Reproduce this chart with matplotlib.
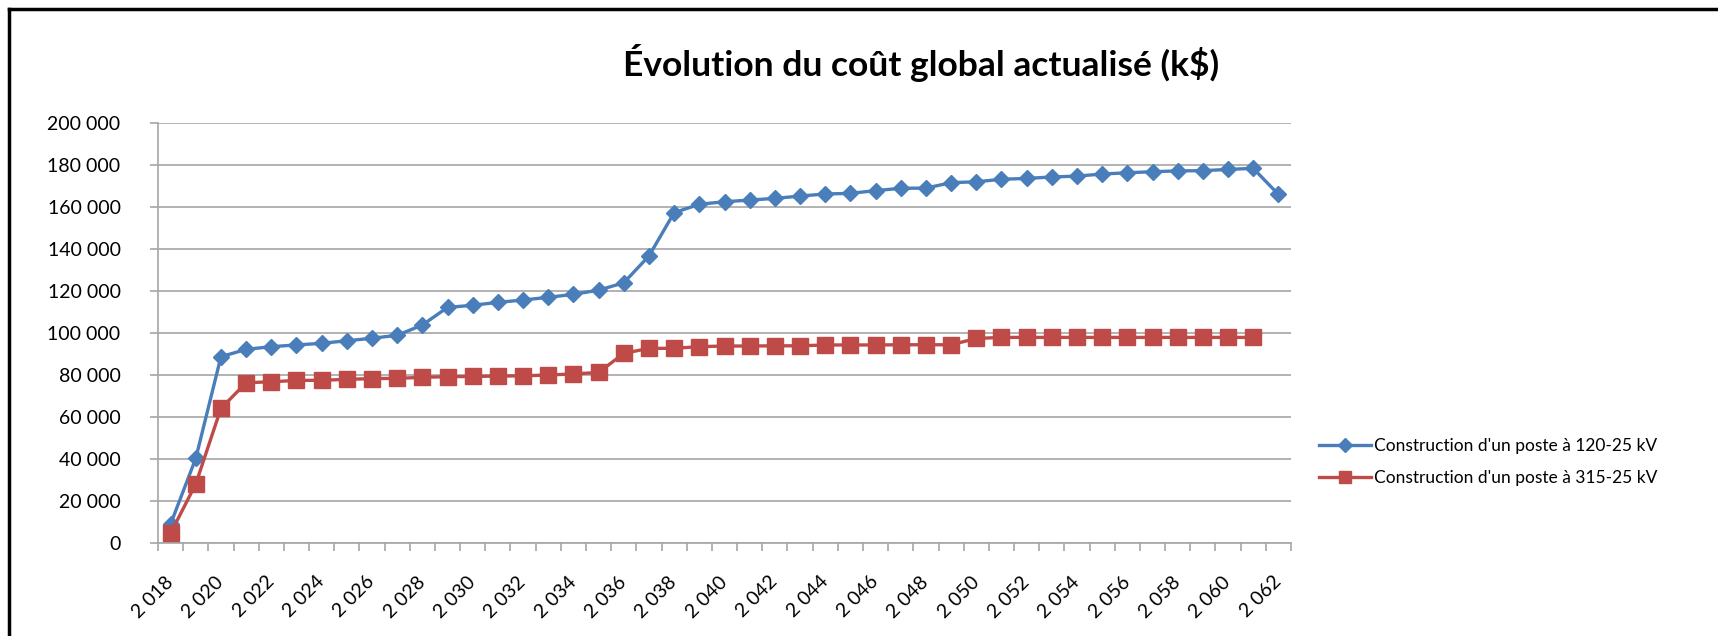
#!/usr/bin/env python3
"""Évolution du coût global actualisé (k$) -- two substation options, 2018-2062."""

import matplotlib

matplotlib.use("Agg")
import matplotlib.pyplot as plt
from matplotlib.lines import Line2D
from matplotlib.ticker import FixedLocator, FuncFormatter

years = list(range(2018, 2063))

# k$ values
cost_120_25 = [
    9000, 40300, 88700, 92200, 93500, 94300, 95100, 96300, 97500, 98900,
    103800, 112200, 113200, 114600, 115700, 117000, 118400, 120400, 123900, 136700,
    157300, 161300, 162500, 163300, 164100, 165200, 166200, 166500, 167800, 168900,
    169000, 171600, 172000, 173200, 173600, 174300, 174700, 175700, 176300, 176800,
    177200, 177300, 177900, 178400, 166000,
]
# last year (2062) has no value for this option
cost_315_25 = [
    4600, 28100, 64100, 76300, 76800, 77400, 77500, 77900, 78300, 78400,
    78900, 79200, 79300, 79500, 79600, 80000, 80500, 81200, 90300, 92700,
    92700, 93500, 93800, 93800, 93900, 93900, 94300, 94300, 94300, 94400,
    94400, 94400, 97400, 97900, 97900, 97900, 97900, 97900, 97900, 97900,
    97900, 97900, 97900, 97900,
]

title = "Évolution du coût global actualisé (k$)"
label_120 = "Construction d'un poste à 120-25 kV"
label_315 = "Construction d'un poste à 315-25 kV"

BLUE = "#4a7ebb"
RED = "#be4b48"
GRID = "#a6a6a6"

plt.rcParams["font.family"] = ["Lato", "DejaVu Sans"]

W, H, DPI = 1718, 636, 100
fig = plt.figure(figsize=(W / DPI, H / DPI), dpi=DPI)

# axes box in pixels: x 158..1291, y 123..543
ax = fig.add_axes([158 / W, (H - 543) / H, (1291 - 158) / W, (543 - 123) / H])

idx = list(range(len(years)))
ax.plot(idx, cost_120_25, color=BLUE, lw=2.4, marker="D", ms=8.5,
        mec=BLUE, mfc=BLUE, label=label_120, zorder=3)
ax.plot(idx[:len(cost_315_25)], cost_315_25, color=RED, lw=2.4, marker="s", ms=12,
        mec=RED, mfc=RED, label=label_315, zorder=3)

ax.set_xlim(-0.5, len(years) - 0.5)
ax.set_ylim(0, 200000)

ax.yaxis.set_major_locator(FixedLocator(range(0, 200001, 20000)))
ax.yaxis.set_major_formatter(FuncFormatter(lambda v, _: f"{v:,.0f}".replace(",", " ")))
ax.grid(axis="y", color=GRID, lw=1.2, zorder=0)
ax.tick_params(axis="y", length=6, width=1.2, color=GRID, pad=21, labelsize=14)

# category axis: tick marks between categories, labels every other year
ax.set_xticks([i - 0.5 for i in range(len(years) + 1)], minor=True)
even = [i for i in idx if i % 2 == 0]
ax.set_xticks(even)
ax.set_xticklabels([f"{years[i] // 1000} {years[i] % 1000:03d}" for i in even],
                   rotation=45, ha="right", va="center", rotation_mode="anchor")
ax.tick_params(axis="x", which="major", length=0, pad=26, labelsize=14)
ax.tick_params(axis="x", which="minor", length=6, width=1.2, color=GRID)

for side in ("top", "right"):
    ax.spines[side].set_visible(False)
for side in ("left", "bottom"):
    ax.spines[side].set_color(GRID)
    ax.spines[side].set_linewidth(1.2)

handles = [
    Line2D([], [], color=BLUE, lw=2.4, marker="D", ms=7, label=label_120),
    Line2D([], [], color=RED, lw=2.4, marker="s", ms=9, label=label_315),
]
fig.legend(handles=handles, loc="center left", bbox_to_anchor=(1312 / W, 1 - 462 / H),
           frameon=False, fontsize=12.5, handlelength=3.0, handletextpad=0.15,
           labelspacing=0.9, borderaxespad=0)

fig.text(921 / W, 1 - 63 / H, title, ha="center", va="center",
         fontsize=25.5, fontweight="bold")

# black frame of the original chart area (top and left edges visible)
fig.add_artist(Line2D([9 / W, 1], [1 - 9 / H, 1 - 9 / H], color="black", lw=2.5,
                      transform=fig.transFigure))
fig.add_artist(Line2D([9 / W, 9 / W], [0, 1 - 9 / H], color="black", lw=2.5,
                      transform=fig.transFigure))

fig.savefig("out.png", dpi=DPI)
